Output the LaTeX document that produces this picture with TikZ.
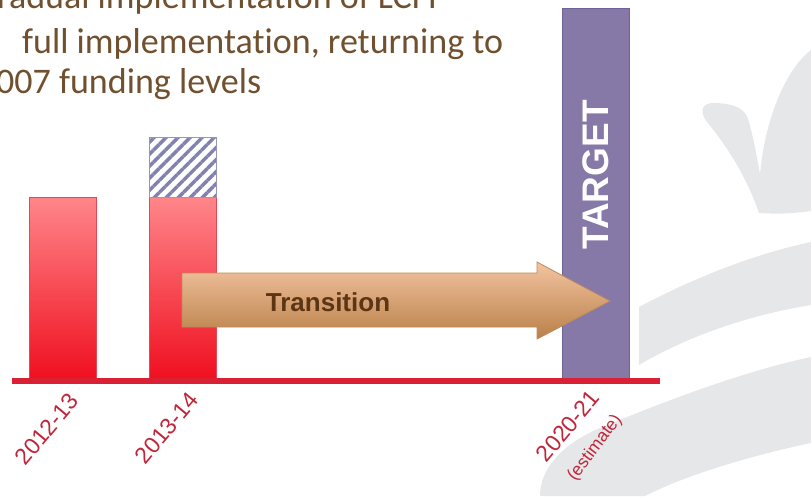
\documentclass[tikz,border=0pt]{standalone}
\usepackage{fontspec}
\setmainfont[Ligatures=NoCommon]{Carlito}
\newfontfamily\arialfont{Liberation Sans}
\usetikzlibrary{patterns.meta}
\definecolor{txtbrown}{RGB}{112,80,46}
\definecolor{bgray}{RGB}{230,231,233}
\definecolor{barTop}{RGB}{255,134,138}
\definecolor{barBot}{RGB}{240,16,32}
\definecolor{barEdge}{RGB}{228,70,84}
\definecolor{axisred}{RGB}{217,32,53}
\definecolor{targetfill}{RGB}{134,121,168}
\definecolor{targetedge}{RGB}{110,98,150}
\definecolor{hatchcol}{RGB}{130,130,178}
\definecolor{hatchedge}{RGB}{150,150,185}
\definecolor{arrTop}{RGB}{243,196,161}
\definecolor{arrBot}{RGB}{185,128,72}
\definecolor{arrEdge}{RGB}{190,138,90}
\definecolor{arrText}{RGB}{92,54,20}
\definecolor{lblred}{RGB}{192,38,58}
\tikzset{
  bgshape/.style={fill=bgray},
  toptext/.style={anchor=base west, inner sep=0pt, text=txtbrown, font=\fontsize{36}{42}\selectfont},
  redbar/.style={top color=barTop, bottom color=barBot, draw=barEdge, line width=0.6pt},
  yearlbl/.style={inner sep=0pt, text=lblred, rotate=50, font=\arialfont\fontsize{23}{26}\selectfont},
  estlbl/.style={inner sep=0pt, text=lblred, rotate=53, font=\arialfont\fontsize{17.5}{20}\selectfont},
}
\begin{document}
\begin{tikzpicture}[x=1pt,y=-1pt]
\useasboundingbox (0,0) rectangle (811,496);
\clip (0,0) rectangle (811,496);
% background decorative shapes
\path[bgshape] (759,213) .. controls (745,172) and (722,140) .. (707,122)
  .. controls (698,110) and (703,102) .. (716,103)
  .. controls (738,104) and (746,110) .. (749,122)
  .. controls (754,140) and (757,158) .. (760,174)
  .. controls (765,120) and (785,70) .. (811,50)
  -- (811,211) .. controls (790,214) and (775,214) .. (759,213) -- cycle;
\path[bgshape] (639,307) .. controls (690,280) and (750,255) .. (811,242)
  -- (811,305) .. controls (750,315) and (690,335) .. (639,365) -- cycle;
\path[bgshape] (540,496) .. controls (540,470) and (560,445) .. (600,428)
  .. controls (680,395) and (750,370) .. (811,357)
  -- (811,443) .. controls (740,458) and (680,478) .. (645,496) -- cycle;
% top text
\node[toptext] (t1) at (-3,8) {radual implementation of LCFF};
\node[toptext] (t2) at (22,53) {full implementation, returning to};
\node[toptext] (t3) at (-4,93) {007 funding levels};
% bars
\path[redbar] (29,197) rectangle (96,378);
\path[redbar] (149,197) rectangle (216,378);
\fill[white] (149,137) rectangle (216,197);
\fill[pattern={Lines[angle=45,distance=8.5pt,line width=3.5pt]}, pattern color=hatchcol] (149,137) rectangle (216,197);
\draw[hatchedge, line width=0.6pt] (149,137) rectangle (216,197);
% target
\filldraw[fill=targetfill, draw=targetedge, line width=0.8pt] (562,8) rectangle (629,378);
\node[rotate=90, text=white, font=\arialfont\bfseries\fontsize{37}{40}\selectfont, inner sep=0pt] (target) at (596,175) {TARGET};
% transition arrow
\path[top color=arrTop, bottom color=arrBot, draw=arrEdge, line width=0.8pt]
  (182,273) -- (537,273) -- (537,262) -- (610,301) -- (537,339) -- (537,327) -- (182,327) -- cycle;
\node[text=arrText, font=\arialfont\bfseries\fontsize{26}{28}\selectfont, inner sep=0pt] (trans) at (328,302) {Transition};
% axis
\fill[axisred] (12,378) rectangle (660,384);
% labels
\node[yearlbl] (y1) at (47,429) {2012-13};
\node[yearlbl] (y2) at (167,428) {2013-14};
\node[yearlbl] (y3) at (568,426) {2020-21};
\node[estlbl] (est) at (595,448) {(estimate)};
\end{tikzpicture}
\end{document}
